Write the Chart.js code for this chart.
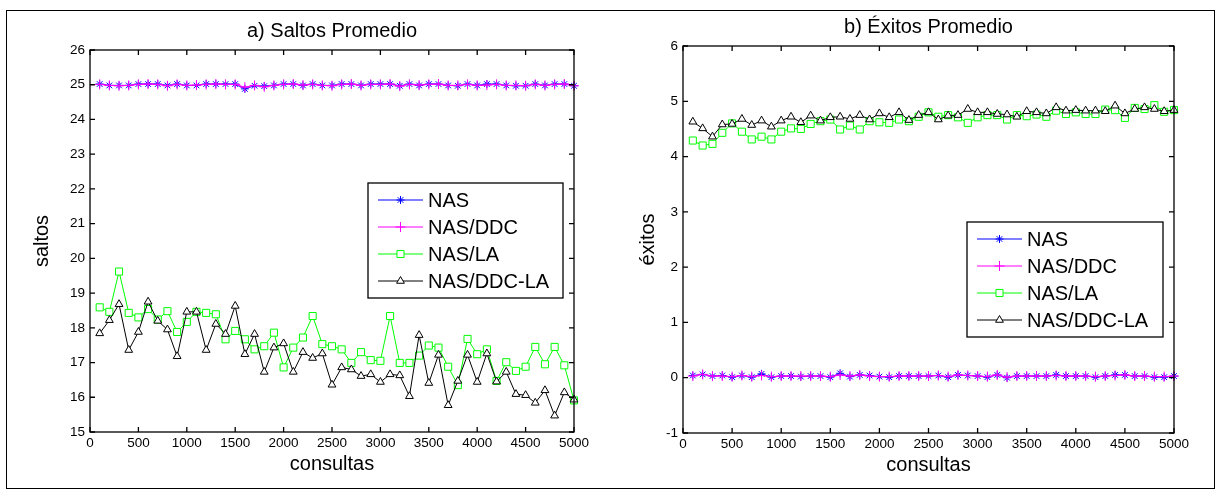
<!DOCTYPE html>
<html>
<head>
<meta charset="utf-8">
<script src="https://cdn.jsdelivr.net/npm/chart.js@4.4.0/dist/chart.umd.min.js"></script>
<style>
body { margin: 0; background: #fff; }
#fig { position: relative; width: 1222px; height: 499px; }
#frame { position: absolute; left: 6px; top: 10px; width: 1207px; height: 477px; border: 1.5px solid #000; }
canvas { position: absolute; top: 0; }
</style>
</head>
<body>
<div id="fig">
  <div id="frame"></div>
  <canvas id="saltos" width="611" height="499" style="left:0"></canvas>
  <canvas id="exitos" width="611" height="499" style="left:611px"></canvas>
</div>
<script>
// consultas (x) 
const consultas = [100,200,300,400,500,600,700,800,900,1000,1100,1200,1300,1400,1500,1600,1700,1800,1900,2000,
  2100,2200,2300,2400,2500,2600,2700,2800,2900,3000,3100,3200,3300,3400,3500,3600,3700,3800,3900,4000,
  4100,4200,4300,4400,4500,4600,4700,4800,4900,5000];

// a) saltos promedio
const saltosNAS = [25.02,24.98,24.98,24.98,25.02,25.02,25.02,24.98,25.02,24.98, 24.98,25.02,25.02,25.02,25.02,24.88,24.97,24.96,24.98,25.02,
  25.02,24.98,25.02,24.98,24.98,25.02,25.02,24.98,25.02,25.02, 25.02,24.97,25.02,24.98,25.02,25.02,24.98,24.97,25.02,24.98,
  25.02,25.02,24.98,24.97,24.97,25.02,24.98,25.02,25.02,24.97];
const saltosNASDDC = [25.01,24.98,24.97,24.98,25.01,25.02,25.01,24.97,25.01,24.98, 24.99,25.01,25.02,25.01,25.01,24.93,24.98,24.94,24.98,25.01,
  25.02,24.99,25.01,24.98,24.97,25.01,25.02,24.98,25.01,25.01, 25.02,24.96,25.01,24.99,25.01,25.02,24.98,24.98,25.01,24.98,
  24.99,25.01,24.98,24.98,24.97,25.01,24.98,25.01,25.02,24.97];
const saltosNASLA = [18.59,18.46,19.62,18.43,18.30,18.54,18.24,18.48,17.88,18.17, 18.46,18.43,18.39,17.67,17.91,17.67,17.38,17.47,17.86,16.86,
  17.43,17.72,18.34,17.53,17.47,17.38,16.99,17.30,17.07,17.05, 18.34,16.99,16.99,17.20,17.49,17.43,16.88,16.35,17.68,17.24,
  17.38,16.47,17.01,16.76,16.88,17.45,16.95,17.45,16.92,15.91];
const saltosNASDDCLA = [17.84,18.22,18.68,17.36,17.88,18.75,18.20,17.95,17.18,18.46, 18.46,17.36,18.11,17.82,18.63,17.24,17.82,16.73,17.43,17.55,
  16.73,17.30,17.13,17.26,16.36,16.86,16.80,16.61,16.66,16.44, 16.66,16.63,16.03,17.79,16.41,17.22,15.77,16.47,17.22,16.44,
  17.26,16.45,16.73,16.09,16.06,15.84,16.20,15.47,16.14,15.93];

// b) exitos promedio
const exitosNAS = [0.04,0.06,0.03,0.04,0.01,0.04,0.01,0.07,0.01,0.03, 0.03,0.02,0.03,0.03,0.01,0.08,0.02,0.05,0.04,0.02,
  0.01,0.03,0.03,0.03,0.03,0.04,0.01,0.05,0.04,0.03, 0.01,0.05,0.00,0.03,0.03,0.03,0.03,0.05,0.03,0.03,
  0.03,0.01,0.03,0.05,0.05,0.03,0.03,0.01,0.01,0.03];
const exitosNASDDC = [0.03,0.06,0.03,0.03,0.02,0.04,0.02,0.04,0.02,0.03, 0.03,0.03,0.03,0.03,0.02,0.05,0.03,0.05,0.03,0.02,
  0.02,0.03,0.03,0.03,0.03,0.04,0.02,0.05,0.04,0.03, 0.02,0.05,0.01,0.03,0.03,0.03,0.03,0.04,0.03,0.03,
  0.03,0.02,0.03,0.04,0.05,0.03,0.03,0.02,0.02,0.03];
const exitosNASLA = [4.29,4.20,4.23,4.43,4.60,4.45,4.31,4.36,4.31,4.45, 4.51,4.50,4.59,4.64,4.67,4.49,4.56,4.49,4.64,4.62,
  4.61,4.67,4.64,4.72,4.80,4.72,4.75,4.71,4.61,4.71, 4.75,4.75,4.67,4.75,4.73,4.76,4.72,4.83,4.77,4.80,
  4.77,4.77,4.85,4.84,4.70,4.88,4.86,4.93,4.81,4.84];
const exitosNASDDCLA = [4.63,4.51,4.36,4.58,4.59,4.68,4.57,4.65,4.54,4.65, 4.72,4.62,4.74,4.65,4.71,4.72,4.68,4.75,4.67,4.78,
  4.71,4.80,4.66,4.75,4.80,4.67,4.74,4.75,4.86,4.80, 4.80,4.77,4.76,4.72,4.82,4.80,4.78,4.89,4.83,4.84,
  4.83,4.83,4.82,4.92,4.78,4.86,4.89,4.86,4.82,4.84];

const ticksX = [0,500,1000,1500,2000,2500,3000,3500,4000,4500,5000];
const ticksSaltos = [15,16,17,18,19,20,21,22,23,24,25,26];
const ticksExitos = [-1,0,1,2,3,4,5,6];

const seriesNames = ['NAS','NAS/DDC','NAS/LA','NAS/DDC-LA'];

const FONT = "'Liberation Sans', Arial, sans-serif";
const styles = [
  {color: '#0000ff', pointStyle: 'star', radius: 4, fill: 'rgba(0,0,0,0)'},
  {color: '#ff00ff', pointStyle: 'cross', radius: 5, fill: 'rgba(0,0,0,0)'},
  {color: '#00ff00', pointStyle: 'rect', radius: 5, fill: '#fff'},
  {color: '#000000', pointStyle: 'triangle', radius: 4.5, fill: '#fff'}
];

function makeSets(list) {
  return list.map((vals, i) => ({
    label: seriesNames[i],
    data: consultas.map((c, k) => ({x: c, y: vals[k]})),
    order: list.length - i,   // later series drawn on top, like matlab
    borderColor: styles[i].color,
    backgroundColor: styles[i].fill,
    pointBorderColor: styles[i].color,
    pointBackgroundColor: styles[i].fill,
    pointStyle: styles[i].pointStyle,
    pointRadius: styles[i].radius,
    pointBorderWidth: 1,
    borderWidth: 1,
    tension: 0,
    clip: false
  }));
}

function marker(ctx, st, x, y) {
  const r = st.radius;
  ctx.save();
  ctx.strokeStyle = st.color; ctx.fillStyle = st.fill; ctx.lineWidth = 1;
  ctx.beginPath();
  if (st.pointStyle === 'rect') {
    const s = r * Math.SQRT1_2;
    ctx.rect(x - s, y - s, 2 * s, 2 * s); ctx.fill(); ctx.stroke();
  } else if (st.pointStyle === 'triangle') {
    ctx.moveTo(x, y - r);
    ctx.lineTo(x + r * 0.866, y + r * 0.5);
    ctx.lineTo(x - r * 0.866, y + r * 0.5);
    ctx.closePath(); ctx.fill(); ctx.stroke();
  } else {
    ctx.moveTo(x - r, y); ctx.lineTo(x + r, y);
    ctx.moveTo(x, y - r); ctx.lineTo(x, y + r);
    if (st.pointStyle === 'star') {
      const d = r * 0.707;
      ctx.moveTo(x - d, y - d); ctx.lineTo(x + d, y + d);
      ctx.moveTo(x - d, y + d); ctx.lineTo(x + d, y - d);
    }
    ctx.stroke();
  }
  ctx.restore();
}

// box, inward ticks and legend, MATLAB style
const boxPlugin = {
  id: 'boxPlugin',
  afterDraw(chart, args, opts) {
    const {ctx, chartArea: a, scales: {x, y}} = chart;
    ctx.save();
    ctx.strokeStyle = '#000';
    ctx.lineWidth = 1.3;
    ctx.strokeRect(a.left, a.top, a.right - a.left, a.bottom - a.top);
    ctx.beginPath();
    x.ticks.forEach(t => {
      const px = x.getPixelForValue(t.value);
      ctx.moveTo(px, a.bottom); ctx.lineTo(px, a.bottom - 5);
      ctx.moveTo(px, a.top); ctx.lineTo(px, a.top + 5);
    });
    y.ticks.forEach(t => {
      const py = y.getPixelForValue(t.value);
      ctx.moveTo(a.left, py); ctx.lineTo(a.left + 5, py);
      ctx.moveTo(a.right, py); ctx.lineTo(a.right - 5, py);
    });
    ctx.stroke();

    const L = opts.legend;
    ctx.fillStyle = '#fff';
    ctx.fillRect(L.left, L.top, L.width, L.height);
    ctx.lineWidth = 1.3;
    ctx.strokeRect(L.left, L.top, L.width, L.height);
    ctx.font = '20px ' + FONT;
    ctx.textBaseline = 'middle';
    seriesNames.forEach((name, i) => {
      const yy = L.top + 17 + i * 27;
      ctx.strokeStyle = styles[i].color;
      ctx.lineWidth = 1;
      ctx.beginPath();
      ctx.moveTo(L.left + 10, yy); ctx.lineTo(L.left + 55, yy);
      ctx.stroke();
      marker(ctx, styles[i], L.left + 32.5, yy);
      ctx.fillStyle = '#000';
      ctx.fillText(name, L.left + 60, yy + 1);
    });
    ctx.restore();
  }
};

function makeChart(id, cfg) {
  return new Chart(document.getElementById(id), {
    type: 'line',
    data: {datasets: makeSets(cfg.series)},
    plugins: [boxPlugin],
    options: {
      responsive: false,
      animation: false,
      layout: {padding: cfg.padding},
      plugins: {
        legend: {display: false},
        tooltip: {enabled: false},
        title: {
          display: true, text: cfg.title, fullSize: false, color: '#000',
          font: {family: FONT, size: 20, weight: 'normal'},
          padding: cfg.titlePad
        },
        boxPlugin: {legend: cfg.legend}
      },
      scales: {
        x: {
          type: 'linear', min: 0, max: 5000,
          afterBuildTicks: s => { s.ticks = ticksX.map(v => ({value: v})); },
          afterFit: s => { s.height = 57; },
          grid: {display: false, drawTicks: false},
          border: {display: false},
          ticks: {color: '#000', padding: 3, font: {family: FONT, size: 13.5},
            callback: v => String(v)},
          title: {display: true, text: 'consultas', color: '#000',
            font: {family: FONT, size: 20}, padding: {top: 0, bottom: 12.8}}
        },
        y: {
          type: 'linear', min: cfg.yTicks[0], max: cfg.yTicks[cfg.yTicks.length - 1],
          afterBuildTicks: s => { s.ticks = cfg.yTicks.map(v => ({value: v})); },
          afterFit: s => { s.width = cfg.yWidth; },
          grid: {display: false, drawTicks: false},
          border: {display: false},
          ticks: {color: '#000', padding: 5, font: {family: FONT, size: 13.5},
            callback: v => String(v)},
          title: {display: true, text: cfg.yTitle, color: '#000',
            font: {family: FONT, size: 20}, padding: {top: 10, bottom: 0}}
        }
      }
    }
  });
}

makeChart('saltos', {
  series: [saltosNAS, saltosNASDDC, saltosNASLA, saltosNASDDCLA],
  title: 'a) Saltos Promedio', yTitle: 'saltos', yTicks: ticksSaltos,
  padding: {left: 20, right: 37, top: 0, bottom: 10}, yWidth: 70,
  titlePad: {top: 19, bottom: 7},
  legend: {left: 368, top: 183, width: 195, height: 115}
});

makeChart('exitos', {
  series: [exitosNAS, exitosNASDDC, exitosNASLA, exitosNASDDCLA],
  title: 'b) Éxitos Promedio', yTitle: 'éxitos', yTicks: ticksExitos,
  padding: {left: 15, right: 48, top: 0, bottom: 9}, yWidth: 57,
  titlePad: {top: 15, bottom: 7},
  legend: {left: 356, top: 222, width: 196, height: 115}
});
</script>
</body>
</html>
